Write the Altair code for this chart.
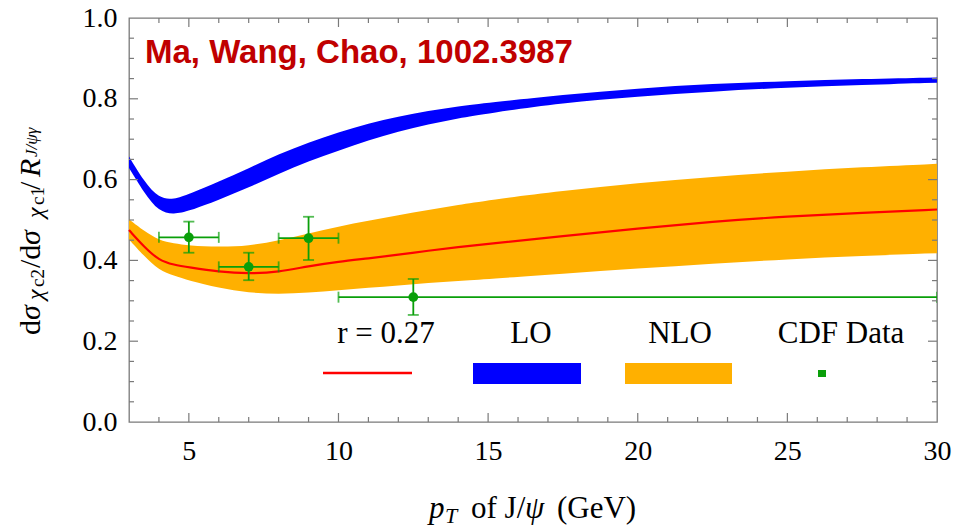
import altair as alt
import pandas as pd

# ---------------- data ----------------
pt = [3, 3.5, 4, 4.5, 5, 6, 7, 8, 9, 10, 11, 12, 13, 14, 15, 17.5, 20, 22.5, 25, 27.5, 30]
lo_upper = [0.657, 0.596, 0.553, 0.551, 0.564, 0.595, 0.628, 0.663, 0.692, 0.717, 0.739, 0.756,
            0.770, 0.781, 0.790, 0.810, 0.826, 0.837, 0.844, 0.849, 0.853]
lo_lower = [0.629, 0.568, 0.520, 0.514, 0.522, 0.550, 0.580, 0.615, 0.645, 0.672, 0.697, 0.719,
            0.737, 0.752, 0.764, 0.790, 0.806, 0.818, 0.828, 0.834, 0.840]
nlo_upper = [0.502, 0.473, 0.450, 0.442, 0.437, 0.433, 0.436, 0.449, 0.467, 0.484, 0.498, 0.512,
             0.525, 0.537, 0.549, 0.572, 0.592, 0.607, 0.620, 0.631, 0.639]
nlo_lower = [0.452, 0.411, 0.376, 0.362, 0.350, 0.332, 0.320, 0.316, 0.320, 0.326, 0.332, 0.338,
             0.344, 0.349, 0.354, 0.367, 0.380, 0.392, 0.403, 0.411, 0.418]
r027 = [0.475, 0.434, 0.400, 0.389, 0.383, 0.372, 0.367, 0.371, 0.386, 0.397, 0.405, 0.414,
        0.424, 0.433, 0.441, 0.460, 0.479, 0.496, 0.509, 0.518, 0.526]

cdf_pt = [5, 7, 9, 12.5]
cdf_pt_lo = [4, 6, 8, 10]
cdf_pt_hi = [6, 8, 10, 30]
cdf_val = [0.457, 0.384, 0.455, 0.309]
cdf_val_lo = [0.419, 0.351, 0.401, 0.265]
cdf_val_hi = [0.496, 0.419, 0.508, 0.354]

x_major = [5, 10, 15, 20, 25, 30]
x_minor = [4, 6, 7, 8, 9, 11, 12, 13, 14, 16, 17, 18, 19, 21, 22, 23, 24, 26, 27, 28, 29]
y_major = [0.0, 0.2, 0.4, 0.6, 0.8, 1.0]
y_minor = [0.05, 0.1, 0.15, 0.25, 0.3, 0.35, 0.45, 0.5, 0.55, 0.65, 0.7, 0.75, 0.85, 0.9, 0.95]

title_text = "Ma, Wang, Chao, 1002.3987"
legend_labels = ["r = 0.27", "LO", "NLO", "CDF Data"]

# ---------------- tables ----------------
curves = pd.DataFrame({"pt": pt, "lo_upper": lo_upper, "lo_lower": lo_lower,
                       "nlo_upper": nlo_upper, "nlo_lower": nlo_lower, "r027": r027})
cdf = pd.DataFrame({"pt": cdf_pt, "pt_lo": cdf_pt_lo, "pt_hi": cdf_pt_hi,
                    "val": cdf_val, "val_lo": cdf_val_lo, "val_hi": cdf_val_hi})

W, H = 808, 404
SERIF = "Liberation Serif"
GREEN = "#0A9F0A"
FRAME = "#7a7a7a"
CURVE = "basis"

xscale = alt.Scale(domain=[3, 30], nice=False, zero=False)
yscale = alt.Scale(domain=[0, 1], nice=False, zero=False)
xaxis = alt.Axis(values=x_major, title=None, ticks=False, tickSize=0, domain=False, grid=False,
                 labelFont=SERIF, labelFontSize=28, labelColor="black", labelPadding=15,
                 labelFlush=False)
yaxis = alt.Axis(values=y_major, title=None, ticks=False, tickSize=0, domain=False, grid=False,
                 format=".1f", labelFont=SERIF, labelFontSize=28, labelColor="black",
                 labelPadding=12, labelFlush=False)


def X(field):
    return alt.X(field, type="quantitative", scale=xscale, axis=xaxis)


def Y(field):
    return alt.Y(field, type="quantitative", scale=yscale, axis=yaxis)


layers = []

# NLO band
layers.append(alt.Chart(curves).mark_area(color="#FFB000", interpolate=CURVE, opacity=1)
              .encode(x=X("pt"), y=Y("nlo_lower"), y2="nlo_upper"))
# LO band
layers.append(alt.Chart(curves).mark_area(color="#0000FF", interpolate=CURVE, opacity=1)
              .encode(x=X("pt"), y=Y("lo_lower"), y2="lo_upper"))
# r = 0.27 line
layers.append(alt.Chart(curves).mark_line(color="#FF0000", strokeWidth=2.2, interpolate=CURVE)
              .encode(x=X("pt"), y=Y("r027")))

# CDF data error bars
layers.append(alt.Chart(cdf).mark_rule(color=GREEN, strokeWidth=1.8)
              .encode(x=X("pt_lo"), x2="pt_hi", y=Y("val")))
layers.append(alt.Chart(cdf).mark_rule(color=GREEN, strokeWidth=1.8)
              .encode(x=X("pt"), y=Y("val_lo"), y2="val_hi"))
for f in ["val_lo", "val_hi"]:
    layers.append(alt.Chart(cdf).mark_tick(color=GREEN, orient="horizontal", size=11, thickness=1.8)
                  .encode(x=X("pt"), y=Y(f)))
for f in ["pt_lo", "pt_hi"]:
    layers.append(alt.Chart(cdf).mark_tick(color=GREEN, orient="vertical", size=11, thickness=1.8,
                                           clip=True)
                  .encode(x=X(f), y=Y("val")))
layers.append(alt.Chart(cdf).mark_circle(color=GREEN, size=95, opacity=1)
              .encode(x=X("pt"), y=Y("val")))

# inward ticks on all four sides
xmaj = pd.DataFrame({"v": x_major[:-1]})
xmin = pd.DataFrame({"v": x_minor})
ymaj = pd.DataFrame({"v": y_major[1:-1]})
ymin = pd.DataFrame({"v": y_minor})
for df, ln in [(xmaj, 9), (xmin, 5)]:
    layers.append(alt.Chart(df).mark_rule(color=FRAME, strokeWidth=1.2)
                  .encode(x=X("v"), y=alt.value(H), y2=alt.value(H - ln)))
    layers.append(alt.Chart(df).mark_rule(color=FRAME, strokeWidth=1.2)
                  .encode(x=X("v"), y=alt.value(0), y2=alt.value(ln)))
for df, ln in [(ymaj, 9), (ymin, 5)]:
    layers.append(alt.Chart(df).mark_rule(color=FRAME, strokeWidth=1.2)
                  .encode(y=Y("v"), x=alt.value(0), x2=alt.value(ln)))
    layers.append(alt.Chart(df).mark_rule(color=FRAME, strokeWidth=1.2)
                  .encode(y=Y("v"), x=alt.value(W), x2=alt.value(W - ln)))


def txt(s, x, y, size, style="normal", font=SERIF, align="left", angle=0, color="black",
        weight="normal"):
    return (alt.Chart(pd.DataFrame({"t": [s]}))
            .mark_text(font=font, fontSize=size, fontStyle=style, fontWeight=weight, align=align,
                       baseline="alphabetic", angle=angle, color=color)
            .encode(text="t:N", x=alt.value(x), y=alt.value(y)))


# title inside the plot
layers.append(txt(title_text, 16, 45, 33, font="Liberation Sans", weight="bold", color="#C00000"))

# legend inset
layers.append(txt(legend_labels[0], 257, 325, 31, align="center"))
layers.append(txt(legend_labels[1], 402, 325, 31, align="center"))
layers.append(txt(legend_labels[2], 551, 325, 31, align="center"))
layers.append(txt(legend_labels[3], 712, 325, 31, align="center"))
one = pd.DataFrame({"k": [0]})
layers.append(alt.Chart(one).mark_rule(color="#FF0000", strokeWidth=2.5)
              .encode(x=alt.value(194), x2=alt.value(283), y=alt.value(355)))
layers.append(alt.Chart(one).mark_rect(color="#0000FF")
              .encode(x=alt.value(344), x2=alt.value(452), y=alt.value(345), y2=alt.value(366)))
layers.append(alt.Chart(one).mark_rect(color="#FFB000")
              .encode(x=alt.value(496), x2=alt.value(603), y=alt.value(345), y2=alt.value(366)))
layers.append(alt.Chart(one).mark_rect(color=GREEN)
              .encode(x=alt.value(689), x2=alt.value(697), y=alt.value(352), y2=alt.value(359)))

# x axis title: p_T of J/psi (GeV)
layers.append(txt("p", 300, 500, 31, style="italic"))
layers.append(txt("T", 316, 505, 22, style="italic"))
layers.append(txt("of J/", 342, 500, 31))
layers.append(txt("\u03c8", 396, 500, 31, style="italic"))
layers.append(txt("(GeV)", 428, 500, 31))

# y axis title: dσ_χc2 / dσ_χc1 / R_J/ψγ (rotated)
bx = -89
layers.append(txt("d", bx, 317, 30, angle=270))
layers.append(txt("\u03c3", bx, 302, 30, style="italic", angle=270))
layers.append(txt("\u03c7", bx + 3, 282, 24, style="italic", angle=270))
layers.append(txt("c2", bx + 4, 269, 19, angle=270))
layers.append(txt("/d", bx, 250, 30, angle=270))
layers.append(txt("\u03c3", bx, 227, 30, style="italic", angle=270))
layers.append(txt("\u03c7", bx + 3, 200, 24, style="italic", angle=270))
layers.append(txt("c1", bx + 4, 187, 19, angle=270))
layers.append(txt("/", bx, 172, 30, angle=270))
layers.append(txt("R", bx, 159, 30, style="italic", angle=270))
layers.append(txt("J/\u03c8\u03b3", bx - 3, 139, 17, style="italic", angle=270))

chart = (alt.layer(*layers)
         .properties(width=W, height=H,
                     padding={"left": 121, "top": 10, "right": 16, "bottom": 108},
                     autosize=alt.AutoSizeParams(type="none"),
                     background="white")
         .configure_view(stroke=FRAME, strokeWidth=1.3))

chart.save("out.html", embed_options={"renderer": "svg", "actions": False})
